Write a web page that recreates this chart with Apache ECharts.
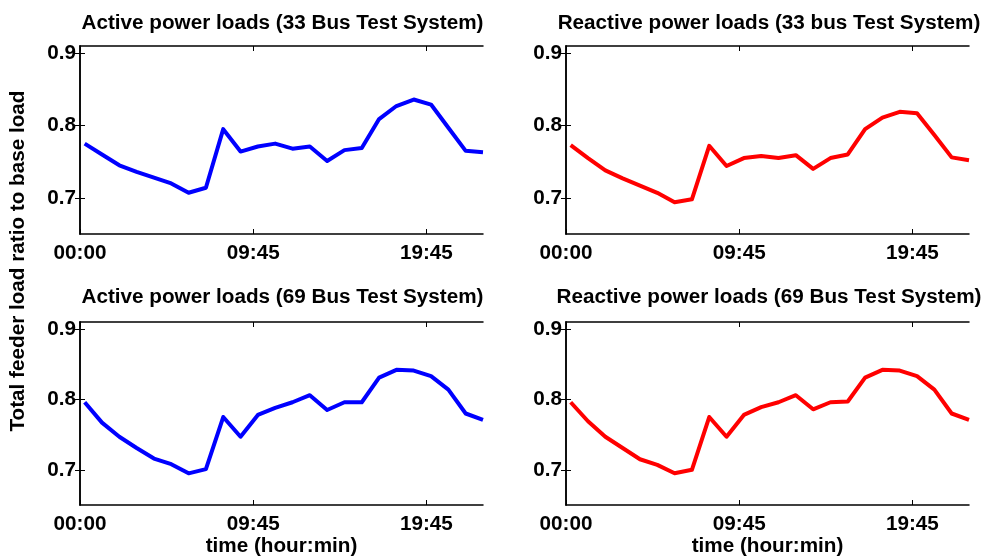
<!DOCTYPE html>
<html>
<head>
<meta charset="utf-8">
<script src="https://cdn.jsdelivr.net/npm/echarts@6/dist/echarts.min.js"></script>
<style>
html,body{margin:0;padding:0;background:#fff;}
#chart{width:983px;height:558px;}
</style>
</head>
<body>
<div id="chart"></div>
<script>
// ---- data ----
const panelTitles = [
  'Active power loads (33 Bus Test System)',
  'Reactive power loads (33 bus Test System)',
  'Active power loads (69 Bus Test System)',
  'Reactive power loads (69 Bus Test System)'
];
const xTickValues = [0, 10, 20];
const xTickLabels = ['00:00', '09:45', '19:45'];
const yTickValues = [0.7, 0.8, 0.9];
const yAxisTitle = 'Total feeder load ratio to base load';
const xAxisTitle = 'time (hour:min)';

const active33 = [0.775,0.760,0.745,0.736,0.728,0.720,0.707,0.714,0.795,0.764,0.771,0.775,0.768,0.771,0.751,0.766,0.769,0.809,0.827,0.836,0.829,0.797,0.765,0.763];
const reactive33 = [0.773,0.755,0.738,0.727,0.717,0.707,0.694,0.698,0.772,0.744,0.755,0.758,0.755,0.759,0.740,0.755,0.760,0.795,0.811,0.819,0.817,0.787,0.756,0.752];
const active69 = [0.796,0.767,0.747,0.731,0.716,0.708,0.695,0.701,0.775,0.747,0.778,0.788,0.796,0.806,0.785,0.796,0.796,0.831,0.842,0.841,0.833,0.814,0.780,0.771];
const reactive69 = [0.796,0.769,0.747,0.731,0.715,0.707,0.695,0.700,0.775,0.747,0.778,0.789,0.796,0.806,0.786,0.796,0.797,0.831,0.842,0.841,0.833,0.814,0.780,0.771];

// ---- build ----
const panelData = [active33, reactive33, active69, reactive69];
const panelColors = ['#0000ff', '#ff0000', '#0000ff', '#ff0000'];
const FONT = "'Liberation Sans', Arial, Helvetica, sans-serif";
const FS = 20.7;
const X_OFFSET = 0.27;           // first sample sits a little right of 00:00
const X_MAX = 23 + X_OFFSET;
const Y_MIN = 0.65, Y_MAX = 0.91;

const grids = [
  {left: 80, top: 46, width: 403, height: 188},
  {left: 566, top: 46, width: 403, height: 188},
  {left: 80, top: 322, width: 403, height: 188},
  {left: 566, top: 322, width: 403, height: 188}
];
const titleCenters = [[282.5, 23], [769, 23], [282.5, 297], [769, 297]];

const axisLineStyle = {color: '#000', width: 1.5};
const xAxes = [], yAxes = [], series = [], graphics = [];

grids.forEach((g, k) => {
  const bottomRow = k >= 2;
  xAxes.push({
    type: 'value', gridIndex: k, position: 'bottom', min: 0, max: X_MAX,
    axisLine: {show: true, lineStyle: axisLineStyle},
    axisTick: {show: true, inside: true, length: 5, customValues: xTickValues, lineStyle: {color: '#000', width: 1}},
    axisLabel: {
      show: true, customValues: xTickValues, margin: 9,
      fontFamily: FONT, fontWeight: 'bold', fontSize: FS, color: '#000',
      formatter: v => { const i = xTickValues.indexOf(Math.round(v)); return i >= 0 ? xTickLabels[i] : ''; }
    },
    splitLine: {show: false},
    name: bottomRow ? xAxisTitle : '',
    nameLocation: 'middle', nameGap: 31,
    nameTextStyle: {fontFamily: FONT, fontWeight: 'bold', fontSize: FS, color: '#000'}
  });
  xAxes.push({
    type: 'value', gridIndex: k, position: 'top', min: 0, max: X_MAX,
    axisLine: {show: true, lineStyle: axisLineStyle},
    axisTick: {show: true, inside: true, length: 5, customValues: xTickValues, lineStyle: {color: '#000', width: 1}},
    axisLabel: {show: false},
    splitLine: {show: false}
  });
  yAxes.push({
    type: 'value', gridIndex: k, position: 'left', min: Y_MIN, max: Y_MAX,
    axisLine: {show: true, lineStyle: axisLineStyle},
    axisTick: {show: true, inside: true, length: 5, customValues: yTickValues, lineStyle: {color: '#000', width: 1}},
    axisLabel: {
      show: true, customValues: yTickValues, margin: 4,
      fontFamily: FONT, fontWeight: 'bold', fontSize: FS, color: '#000',
      formatter: v => v.toFixed(1)
    },
    splitLine: {show: false}
  });
  yAxes.push({
    type: 'value', gridIndex: k, position: 'right', min: Y_MIN, max: Y_MAX,
    axisLine: {show: true, lineStyle: axisLineStyle},
    axisTick: {show: true, inside: true, length: 5, customValues: yTickValues, lineStyle: {color: '#000', width: 1}},
    axisLabel: {show: false},
    splitLine: {show: false}
  });
  series.push({
    type: 'line', xAxisIndex: 2 * k, yAxisIndex: 2 * k,
    data: panelData[k].map((v, i) => [i + X_OFFSET, v]),
    showSymbol: false, symbol: 'none',
    lineStyle: {color: panelColors[k], width: 4, join: 'round'},
    itemStyle: {color: panelColors[k]},
    animation: false, silent: true
  });
  graphics.push({
    type: 'text', x: titleCenters[k][0], y: titleCenters[k][1],
    style: {
      text: panelTitles[k], fontFamily: FONT, fontWeight: 'bold', fontSize: FS,
      fill: '#000', textAlign: 'center', textVerticalAlign: 'middle'
    }
  });
});

graphics.push({
  type: 'text', x: 18, y: 261, rotation: Math.PI / 2,
  style: {
    text: yAxisTitle, fontFamily: FONT, fontWeight: 'bold', fontSize: FS,
    fill: '#000', textAlign: 'center', textVerticalAlign: 'middle'
  }
});

const chart = echarts.init(document.getElementById('chart'), null, {renderer: 'canvas'});
chart.setOption({
  backgroundColor: '#fff',
  animation: false,
  grid: grids,
  xAxis: xAxes,
  yAxis: yAxes,
  series: series,
  graphic: graphics
});
</script>
</body>
</html>
